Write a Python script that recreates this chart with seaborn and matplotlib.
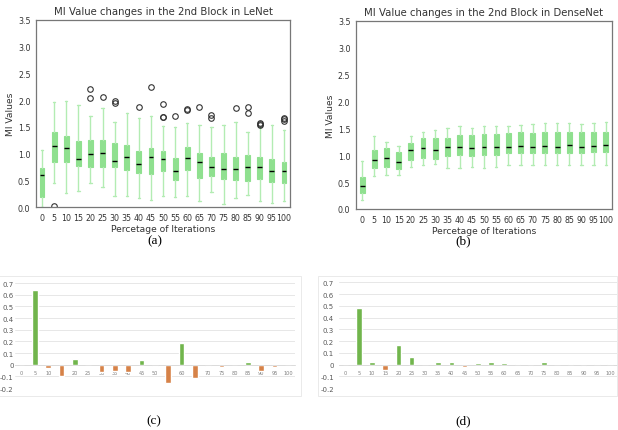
import numpy as np
import pandas as pd
import seaborn as sns
import matplotlib.pyplot as plt
from matplotlib.patches import Rectangle

# x categories shared by all four panels
pcts = [0, 5, 10, 15, 20, 25, 30, 35, 40, 45, 50, 55, 60, 65, 70, 75, 80, 85, 90, 95, 100]

# (a) LeNet box statistics
lenet_q1 = [0.19, 0.85, 0.84, 0.77, 0.75, 0.75, 0.75, 0.70, 0.64, 0.62, 0.67,
            0.51, 0.69, 0.55, 0.58, 0.52, 0.50, 0.49, 0.53, 0.47, 0.45]
lenet_med = [0.59, 1.15, 1.10, 0.90, 1.00, 1.02, 0.87, 0.94, 0.81, 0.93, 0.89,
             0.68, 0.92, 0.84, 0.74, 0.72, 0.72, 0.75, 0.75, 0.68, 0.68]
lenet_q3 = [0.73, 1.40, 1.32, 1.23, 1.25, 1.25, 1.19, 1.16, 1.05, 1.10, 1.04,
            0.92, 1.12, 1.02, 0.94, 1.02, 0.94, 0.97, 0.93, 0.89, 0.85]
lenet_lo = [0.00, 0.45, 0.26, 0.30, 0.44, 0.37, 0.21, 0.21, 0.16, 0.14, 0.21,
            0.19, 0.21, 0.12, 0.28, 0.05, 0.16, 0.22, 0.12, 0.08, 0.11]
lenet_hi = [1.07, 1.97, 1.98, 1.90, 1.70, 1.86, 1.60, 1.75, 1.67, 1.70, 1.52,
            1.50, 1.58, 1.53, 1.50, 1.53, 1.59, 1.41, 1.50, 1.53, 1.45]
lenet_fliers = [[], [0.02], [], [], [2.21, 2.04], [2.06], [1.99, 1.95], [], [1.88], [2.25],
                [1.93, 1.69, 1.68], [1.70], [1.83, 1.82], [1.88], [1.73, 1.67], [], [1.86],
                [1.87, 1.75], [1.58, 1.55, 1.53], [], [1.67, 1.64, 1.61]]

# (b) DenseNet box statistics
dense_q1 = [0.29, 0.76, 0.78, 0.74, 0.92, 0.95, 0.93, 0.99, 1.00, 0.99, 1.00,
            1.00, 1.05, 1.04, 1.04, 1.05, 1.04, 1.05, 1.05, 1.07, 1.07]
dense_med = [0.43, 0.91, 0.94, 0.87, 1.09, 1.13, 1.09, 1.15, 1.15, 1.13, 1.15,
             1.15, 1.16, 1.17, 1.16, 1.17, 1.16, 1.19, 1.16, 1.17, 1.19]
dense_q3 = [0.59, 1.10, 1.13, 1.07, 1.23, 1.32, 1.32, 1.33, 1.38, 1.38, 1.40,
            1.39, 1.41, 1.43, 1.41, 1.44, 1.44, 1.44, 1.44, 1.44, 1.44]
dense_lo = [0.16, 0.61, 0.64, 0.64, 0.79, 0.82, 0.84, 0.77, 0.77, 0.79, 0.76,
            0.79, 0.81, 0.81, 0.81, 0.82, 0.82, 0.82, 0.82, 0.82, 0.82]
dense_hi = [0.89, 1.36, 1.24, 1.17, 1.36, 1.44, 1.47, 1.51, 1.55, 1.50, 1.54,
            1.55, 1.55, 1.57, 1.58, 1.60, 1.60, 1.61, 1.59, 1.61, 1.62]

# (c) and (d) differences
lenet_diff = [0, 0.64, -0.03, -0.10, 0.05, 0, -0.06, -0.05, -0.06, 0.04, -0.01,
              -0.16, 0.19, -0.11, -0.015, -0.02, -0.005, 0.02, -0.05, -0.02, -0.005]
dense_diff = [0, 0.48, 0.02, -0.05, 0.17, 0.06, 0, 0.02, 0.025, -0.02, 0.015,
              0.02, 0.01, 0.003, -0.01, 0.02, 0, 0.005, -0.01, 0.005, 0.005]

BOX = "#8fe08f"
WHISK = "#b3ecb3"
GREEN = "#6cc73a"
ORANGE = "#ed7d31"

sns.set_style("white")
plt.rcParams["font.family"] = ["DejaVu Sans"]

fig = plt.figure(figsize=(6.18, 4.31), dpi=100)


def box_panel(rect, q1, med, q3, lo, hi, fliers, title):
    ax = fig.add_axes(rect)
    stats = []
    for i in range(len(pcts)):
        stats.append({"q1": q1[i], "med": med[i], "q3": q3[i],
                      "whislo": lo[i], "whishi": hi[i],
                      "fliers": fliers[i] if fliers else []})
    ax.bxp(stats, widths=0.4, patch_artist=True,
           boxprops=dict(facecolor=BOX, edgecolor=BOX, linewidth=0.8),
           whiskerprops=dict(color=WHISK, linewidth=1.0),
           capprops=dict(color=WHISK, linewidth=1.0),
           medianprops=dict(color="black", linewidth=1.0),
           flierprops=dict(marker="o", markerfacecolor="none",
                           markeredgecolor="#333333", markersize=4, markeredgewidth=0.8))
    ax.set_ylim(0, 3.5)
    ax.set_yticks(np.arange(0, 3.51, 0.5))
    ax.set_xticks(range(1, len(pcts) + 1))
    ax.set_xticklabels([str(p) for p in pcts])
    ax.tick_params(labelsize=5.7, length=2.5, color="#555555", labelcolor="#333333", pad=1.5)
    for s in ax.spines.values():
        s.set_color("#777777")
        s.set_linewidth(0.9)
    ax.set_title(title, fontsize=7.3, color="#333333", pad=4)
    ax.set_xlabel("Percetage of Iterations", fontsize=6.6, color="#333333", labelpad=1.5)
    ax.set_ylabel("MI Values", fontsize=6.6, color="#333333", labelpad=2)
    return ax


box_panel([0.0583, 0.5174, 0.411, 0.4339], lenet_q1, lenet_med, lenet_q3,
          lenet_lo, lenet_hi, lenet_fliers, "MI Value changes in the 2nd Block in LeNet")
box_panel([0.576, 0.5128, 0.4142, 0.4362], dense_q1, dense_med, dense_q3,
          dense_lo, dense_hi, None, "MI Value changes in the 2nd Block in DenseNet")


def bar_panel(rect, values, ypad):
    ax = fig.add_axes(rect)
    labels = [str(p) for p in pcts]
    df = pd.DataFrame({"pct": labels, "val": values})
    colors = [GREEN if v >= 0 else ORANGE for v in values]
    sns.barplot(data=df, x="pct", y="val", hue="pct", width=0.42,
                palette=colors, legend=False, ax=ax, order=labels, hue_order=labels)
    ax.set_ylim(-0.2, 0.7)
    ax.set_xlim(-0.5, len(pcts) - 0.5)
    ax.set_yticks(np.round(np.arange(-0.2, 0.71, 0.1), 1))
    ax.set_yticklabels(["-0.2", "-0.1", "0", "0.1", "0.2", "0.3", "0.4", "0.5", "0.6", "0.7"])
    ax.yaxis.grid(True, color="#e3e3e3", linewidth=0.6)
    ax.set_axisbelow(True)
    for k in ["top", "right", "left"]:
        ax.spines[k].set_visible(False)
    ax.spines["bottom"].set_position(("data", 0))
    ax.spines["bottom"].set_color("#d9d9d9")
    ax.spines["bottom"].set_linewidth(0.6)
    ax.tick_params(axis="x", length=0, labelsize=3.6, labelcolor="#7f7f7f", pad=4)
    ax.tick_params(axis="y", length=0, labelsize=5.0, labelcolor="#595959", pad=ypad)
    ax.set_xlabel("")
    ax.set_ylabel("")
    return ax


bar_panel([0.0243, 0.0974, 0.4523, 0.2436], lenet_diff, 1)
bar_panel([0.5485, 0.0974, 0.4492, 0.2452], dense_diff, 3.5)

# chart area frames of the two spreadsheet charts
fig.patches.append(Rectangle((-0.01, 34 / 431), 301 / 618 + 0.01, 120 / 431,
                             transform=fig.transFigure, fill=False,
                             edgecolor="#e6e6e6", linewidth=0.6))
fig.patches.append(Rectangle((318 / 618, 34 / 431), 299 / 618, 120 / 431,
                             transform=fig.transFigure, fill=False,
                             edgecolor="#e6e6e6", linewidth=0.6))

serif = ["Liberation Serif", "DejaVu Serif"]
for x, y, s in [(155, 241, "(a)"), (463, 241, "(b)"), (154, 421, "(c)"), (463, 421, "(d)")]:
    fig.text(x / 618, 1 - y / 431, s, ha="center", va="center", fontsize=9.5,
             family=serif, color="black")

fig.savefig("out.png", dpi=100)
